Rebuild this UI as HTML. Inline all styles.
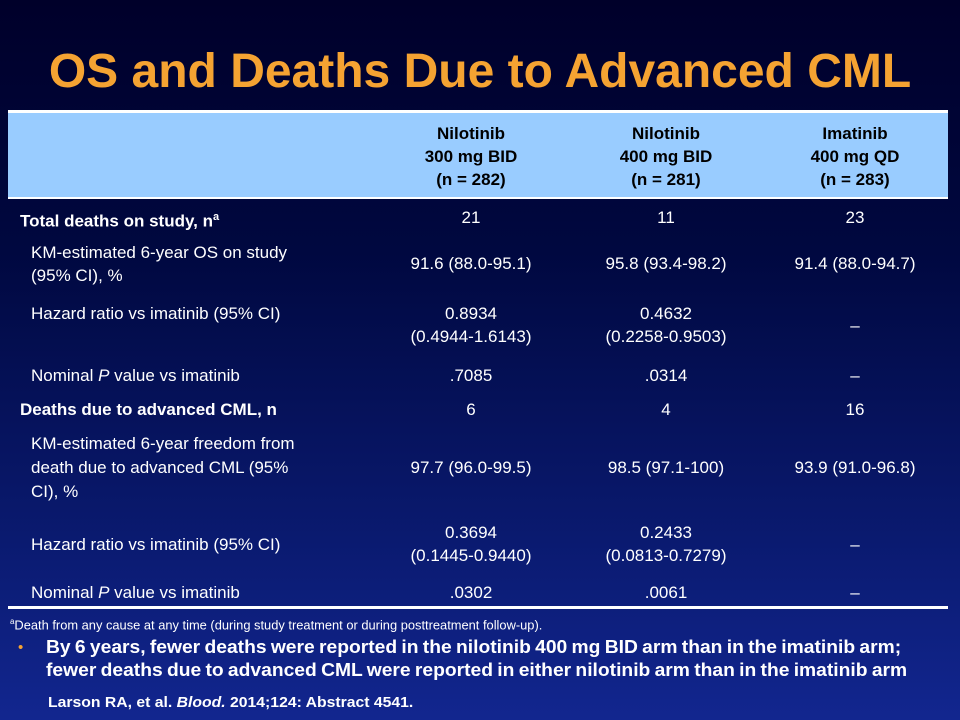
<!DOCTYPE html>
<html><head><meta charset="utf-8"><style>
body{margin:0;width:960px;height:720px;overflow:hidden;font-family:"Liberation Sans",sans-serif;}
#slide{position:relative;width:960px;height:720px;background:linear-gradient(180deg,#00002a 0%,#000840 35%,#0a1a70 75%,#12268f 100%);color:#fff;}
.a{position:absolute;white-space:nowrap;}
.c{text-align:center;transform:translateX(-50%);}
.t{font-size:17px;line-height:23px;}
.b{font-weight:bold;}
</style></head><body>
<div id="slide">
<div class="a b" style="left:0;width:960px;top:44px;text-align:center;font-size:48px;color:#f5a332;">OS and Deaths Due to Advanced CML</div>
<div class="a" style="left:8px;top:110px;width:940px;height:3px;background:#fff"></div>
<div class="a" style="left:8px;top:113px;width:940px;height:84px;background:#99ccff"></div>
<div class="a" style="left:8px;top:197px;width:940px;height:2px;background:#fff"></div>
<div class="a" style="left:8px;top:606px;width:940px;height:3px;background:#fff"></div>

<div class="a c t b" style="left:471px;top:122px;color:#000">Nilotinib<br>300 mg BID<br>(n = 282)</div>
<div class="a c t b" style="left:666px;top:122px;color:#000">Nilotinib<br>400 mg BID<br>(n = 281)</div>
<div class="a c t b" style="left:855px;top:122px;color:#000">Imatinib<br>400 mg QD<br>(n = 283)</div>

<div class="a t b" style="left:20px;top:206px">Total deaths on study, n<sup style="font-size:11px">a</sup></div>
<div class="a c t" style="left:471px;top:206px">21</div>
<div class="a c t" style="left:666px;top:206px">11</div>
<div class="a c t" style="left:855px;top:206px">23</div>

<div class="a t" style="left:31px;top:241px">KM-estimated 6-year OS on study<br>(95% CI), %</div>
<div class="a c t" style="left:471px;top:252px">91.6 (88.0-95.1)</div>
<div class="a c t" style="left:666px;top:252px">95.8 (93.4-98.2)</div>
<div class="a c t" style="left:855px;top:252px">91.4 (88.0-94.7)</div>

<div class="a t" style="left:31px;top:302px">Hazard ratio vs imatinib (95% CI)</div>
<div class="a c t" style="left:471px;top:302px">0.8934<br>(0.4944-1.6143)</div>
<div class="a c t" style="left:666px;top:302px">0.4632<br>(0.2258-0.9503)</div>
<div class="a c t" style="left:855px;top:314px">–</div>

<div class="a t" style="left:31px;top:364px">Nominal <i>P</i> value vs imatinib</div>
<div class="a c t" style="left:471px;top:364px">.7085</div>
<div class="a c t" style="left:666px;top:364px">.0314</div>
<div class="a c t" style="left:855px;top:364px">–</div>

<div class="a t b" style="left:20px;top:398px">Deaths due to advanced CML, n</div>
<div class="a c t" style="left:471px;top:398px">6</div>
<div class="a c t" style="left:666px;top:398px">4</div>
<div class="a c t" style="left:855px;top:398px">16</div>

<div class="a t" style="left:31px;top:432px;line-height:24px">KM-estimated 6-year freedom from<br>death due to advanced CML (95%<br>CI), %</div>
<div class="a c t" style="left:471px;top:456px">97.7 (96.0-99.5)</div>
<div class="a c t" style="left:666px;top:456px">98.5 (97.1-100)</div>
<div class="a c t" style="left:855px;top:456px">93.9 (91.0-96.8)</div>

<div class="a t" style="left:31px;top:533px">Hazard ratio vs imatinib (95% CI)</div>
<div class="a c t" style="left:471px;top:521px">0.3694<br>(0.1445-0.9440)</div>
<div class="a c t" style="left:666px;top:521px">0.2433<br>(0.0813-0.7279)</div>
<div class="a c t" style="left:855px;top:533px">–</div>

<div class="a t" style="left:31px;top:581px">Nominal <i>P</i> value vs imatinib</div>
<div class="a c t" style="left:471px;top:581px">.0302</div>
<div class="a c t" style="left:666px;top:581px">.0061</div>
<div class="a c t" style="left:855px;top:581px">–</div>

<div class="a" style="left:10px;top:617px;font-size:13px;transform:scaleX(0.99);transform-origin:left"><sup style="font-size:8px">a</sup>Death from any cause at any time (during study treatment or during posttreatment follow-up).</div>
<div class="a" style="left:18px;top:639px;color:#f5a332;font-size:15px">•</div>
<div class="a b" style="left:46px;top:636px;font-size:18px;line-height:23px;transform:scaleX(1.07);transform-origin:left;word-spacing:-1px">By 6 years, fewer deaths were reported in the nilotinib 400 mg BID arm than in the imatinib arm;<br>fewer deaths due to advanced CML were reported in either nilotinib arm than in the imatinib arm</div>
<div class="a b" style="left:48px;top:694px;font-size:15px;transform:scaleX(1.05);transform-origin:left">Larson RA, et al. <i>Blood.</i> 2014;124: Abstract 4541.</div>
</div>
</body></html>
